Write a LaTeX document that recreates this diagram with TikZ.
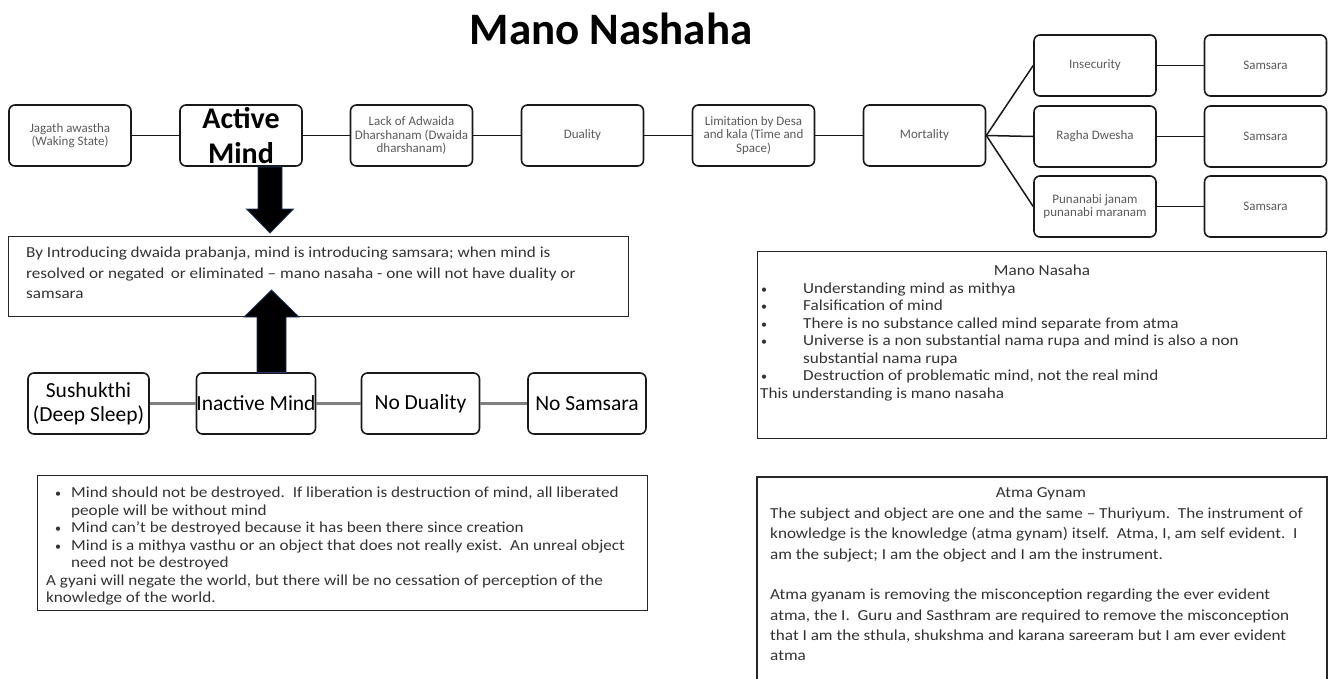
\documentclass[tikz,border=0pt]{standalone}
\usepackage{fontspec}
\setmainfont{Carlito}
\newfontfamily\wordfont[FakeStretch=1.12]{Carlito}
\usetikzlibrary{calc}
\definecolor{txt}{HTML}{333333}
\definecolor{smalltxt}{HTML}{5A5A5A}
\definecolor{arrowedge}{HTML}{1F3864}
\begin{document}
\begin{tikzpicture}[x=1pt,y=-1pt,
  flowbox/.style={draw=black!90, line width=1.6pt, rounded corners=6pt, minimum width=122pt, minimum height=61pt, inner sep=1pt, align=center, text=smalltxt, font=\fontsize{13}{13.5}\selectfont},
  lowbox/.style={draw=black!90, line width=1.6pt, rounded corners=6pt, minimum width=118pt, minimum height=61pt, inner sep=0pt, align=center, text=black, font=\fontsize{21.5}{24}\selectfont},
  link/.style={draw=black!90, line width=1.5pt},
  greylink/.style={draw=black!50, line width=3pt},
  textbox/.style={draw=black!85, line width=1.4pt, inner sep=0pt, anchor=north west},
  para/.style={anchor=base west, inner sep=0pt, text=txt, font=\wordfont\fontsize{15.3}{18}\selectfont},
  bul/.style={anchor=base, inner sep=0pt, text=txt, font=\fontsize{12}{14}\selectfont},
  blockarrow/.style={fill=black, draw=arrowedge, line width=0.8pt, line join=miter}
]
\useasboundingbox (0,0) rectangle (1332,678);

% title
\node[anchor=base, inner sep=0pt, font=\bfseries\fontsize{45}{50}\selectfont] (title) at (611,44) {Mano Nashaha};

% top row
\node[flowbox] (jag) at (70,135.5) {Jagath awastha\\(Waking State)};
\node[flowbox, text=black, font=\bfseries\fontsize{30}{34.5}\selectfont] (act) at (241,135.5) {Active\\Mind};
\node[flowbox] (lack) at (411.5,135.5) {Lack of Adwaida\\Dharshanam (Dwaida\\dharshanam)};
\node[flowbox] (dual) at (582.5,135.5) {Duality};
\node[flowbox] (lim) at (753.5,135.5) {Limitation by Desa\\and kala (Time and\\Space)};
\node[flowbox] (mort) at (924.5,135.5) {Mortality};
\node[flowbox] (insec) at (1095,65.5) {Insecurity};
\node[flowbox] (ragha) at (1095,136.5) {Ragha Dwesha};
\node[flowbox] (puna) at (1095,206.5) {Punanabi janam\\punanabi maranam};
\node[flowbox] (sa) at (1265.5,65.5) {Samsara};
\node[flowbox] (sb) at (1265.5,136.5) {Samsara};
\node[flowbox] (sc) at (1265.5,206.5) {Samsara};

\draw[link] (jag) -- (act);
\draw[link] (act) -- (lack);
\draw[link] (lack) -- (dual);
\draw[link] (dual) -- (lim);
\draw[link] (lim) -- (mort);
\draw[link] (mort.east) -- (insec.west);
\draw[link] (mort.east) -- (ragha.west);
\draw[link] (mort.east) -- (puna.west);
\draw[link] (insec) -- (sa);
\draw[link] (ragha) -- (sb);
\draw[link] (puna) -- (sc);

% middle statement box
\node[textbox, minimum width=620pt, minimum height=80pt] (intro) at (8,236) {};
\node[para] (in1) at (26,257.5) {By Introducing dwaida prabanja, mind is introducing samsara; when mind is};
\node[para] (in2) at (26,278) {resolved or negated\, or eliminated – mano nasaha - one will not have duality or};
\node[para] (in3) at (26,298.5) {samsara};

% bottom row
\node[lowbox, minimum width=121pt] (sus) at (88.5,403.5) {Sushukthi\\(Deep Sleep)};
\node[lowbox] (ina) at (256,403.5) {Inactive Mind};
\node[lowbox] (nod) at (420.5,403.5) {No Duality};
\node[lowbox] (nos) at (587,403.5) {No Samsara};
\draw[greylink] (sus) -- (ina);
\draw[greylink] (ina) -- (nod);
\draw[greylink] (nod) -- (nos);

% block arrows
\draw[blockarrow] (258,167) -- (282,167) -- (282,209) -- (293.5,209) -- (270,233) -- (246.5,209) -- (258,209) -- cycle;
\draw[blockarrow] (257,372.5) -- (286,372.5) -- (286,317) -- (299,317) -- (271.5,290) -- (244,317) -- (257,317) -- cycle;

% Mano Nasaha box
\node[textbox, minimum width=569pt, minimum height=187pt] (manobox) at (757,251) {};
\node[para, anchor=base] (mt) at (1042,275.5) {Mano Nasaha};
\node[bul] (mb1) at (764,293) {•};
\node[para] (m1) at (803,293) {Understanding mind as mithya};
\node[bul] (mb2) at (764,310.5) {•};
\node[para] (m2) at (803,310.5) {Falsification of mind};
\node[bul] (mb3) at (764,328) {•};
\node[para] (m3) at (803,328) {There is no substance called mind separate from atma};
\node[bul] (mb4) at (764,345.5) {•};
\node[para] (m4) at (803,345.5) {Universe is a non substantial nama rupa and mind is also a non};
\node[para] (m5) at (803,363) {substantial nama rupa};
\node[bul] (mb6) at (764,380.5) {•};
\node[para] (m6) at (803,380.5) {Destruction of problematic mind, not the real mind};
\node[para] (m7) at (760,398) {This understanding is mano nasaha};

% bottom-left box
\node[textbox, minimum width=610pt, minimum height=135pt] (mindbox) at (37,475) {};
\node[bul] (lb1) at (58,497.5) {•};
\node[para] (l1) at (71,497.5) {Mind should not be destroyed.\ \ If liberation is destruction of mind, all liberated};
\node[para] (l2) at (71,515) {people will be without mind};
\node[bul] (lb3) at (58,532.5) {•};
\node[para] (l3) at (71,532.5) {Mind can’t be destroyed because it has been there since creation};
\node[bul] (lb4) at (58,550) {•};
\node[para] (l4) at (71,550) {Mind is a mithya vasthu or an object that does not really exist.\ \ An unreal object};
\node[para] (l5) at (71,567.5) {need not be destroyed};
\node[para] (l6) at (46,585) {A gyani will negate the world, but there will be no cessation of perception of the};
\node[para] (l7) at (46,602.5) {knowledge of the world.};

% Atma Gynam box (runs past the lower edge)
\draw[draw=black!85, line width=1.4pt] (757,700) |- (1327,477) -- (1327,700);
\node[para, anchor=base] (at) at (1041,497.5) {Atma Gynam};
\node[para] (a1) at (770,518.5) {The subject and object are one and the same – Thuriyum.\ \ The instrument of};
\node[para] (a2) at (770,538.8) {knowledge is the knowledge (atma gynam) itself.\ \ Atma, I, am self evident.\ \ I};
\node[para] (a3) at (770,559.1) {am the subject; I am the object and I am\ the instrument.};
\node[para] (a4) at (770,599.7) {Atma gyanam is removing the misconception regarding the ever\ evident};
\node[para] (a5) at (770,620) {atma, the I.\ \ Guru and Sasthram are required to remove the misconception};
\node[para] (a6) at (770,640.3) {that I am\ the sthula, shukshma and karana sareeram but I am ever\ evident};
\node[para] (a7) at (770,660.6) {atma};
\end{tikzpicture}
\end{document}
